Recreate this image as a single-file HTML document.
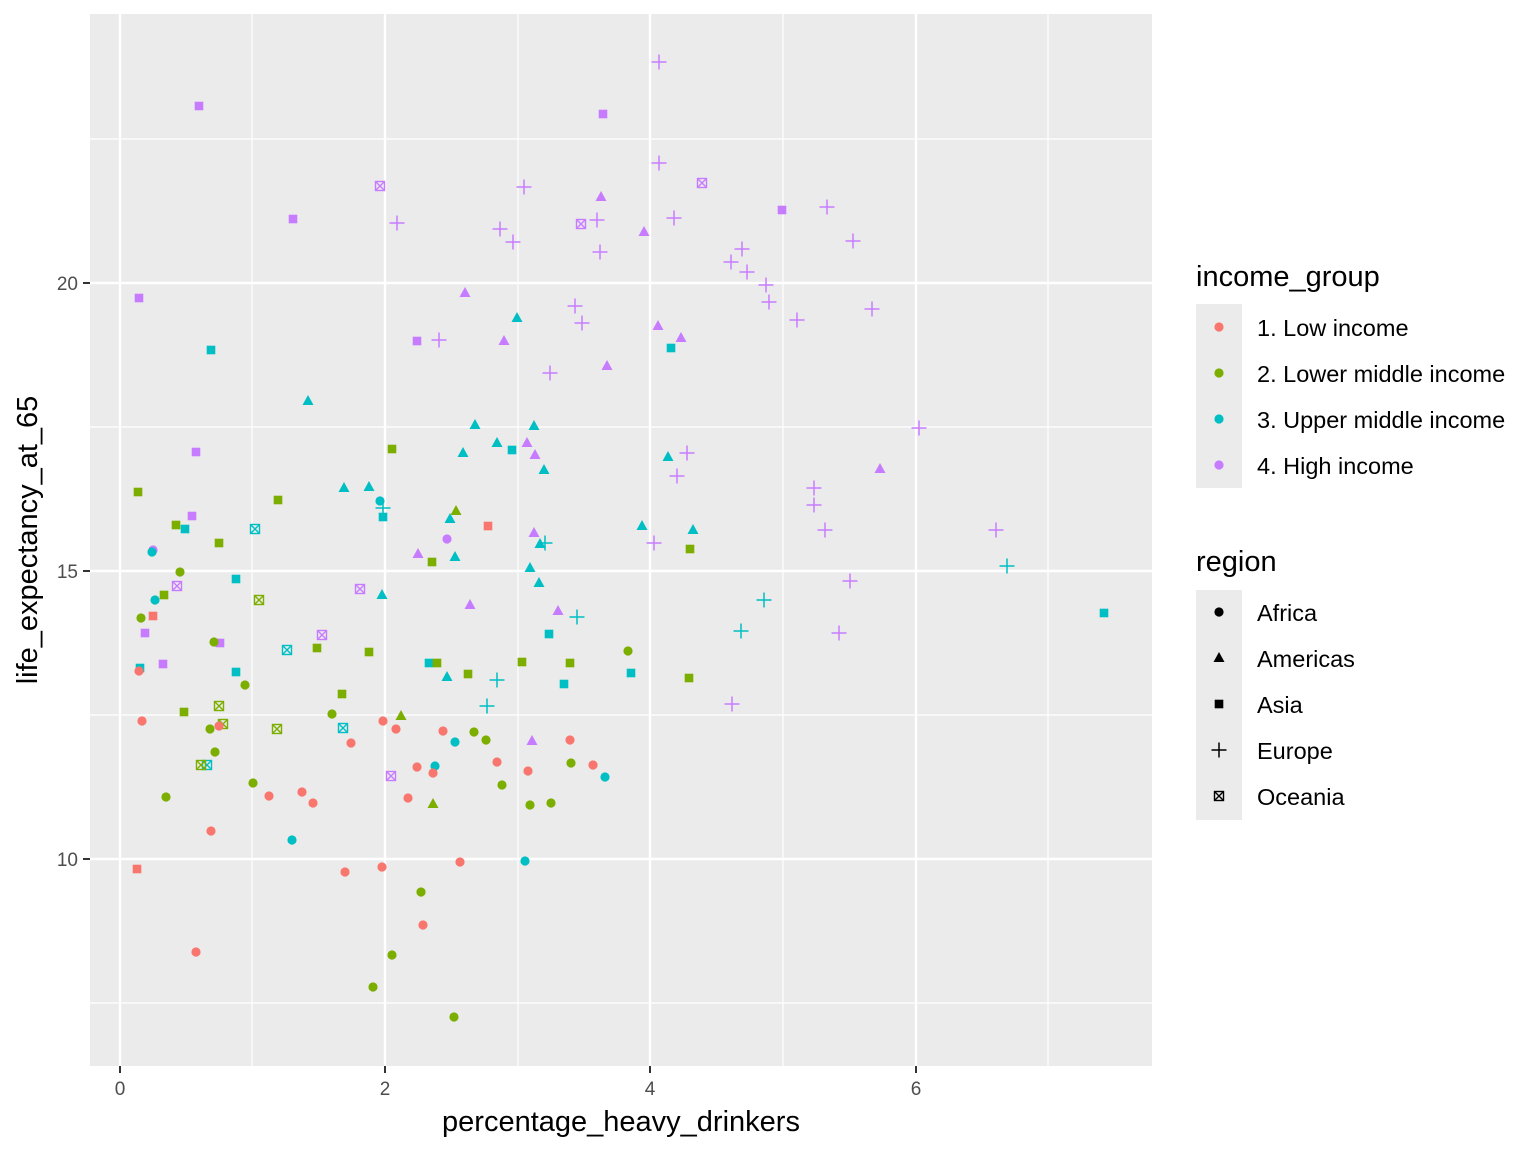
<!DOCTYPE html>
<html><head><meta charset="utf-8"><style>body{margin:0;background:#fff}svg{display:block}text{font-family:"Liberation Sans",Arial,sans-serif}</style></head>
<body>
<svg id="s" width="1536" height="1152" xmlns="http://www.w3.org/2000/svg">
<rect x="90" y="14" width="1062" height="1052" fill="#EBEBEB"/>
<g stroke="#fff" stroke-width="1.2">
<line x1="252" y1="14" x2="252" y2="1066"/><line x1="518" y1="14" x2="518" y2="1066"/><line x1="783" y1="14" x2="783" y2="1066"/><line x1="1048" y1="14" x2="1048" y2="1066"/>
<line x1="90" y1="139" x2="1152" y2="139"/><line x1="90" y1="427" x2="1152" y2="427"/><line x1="90" y1="715" x2="1152" y2="715"/><line x1="90" y1="1003" x2="1152" y2="1003"/>
</g>
<g stroke="#fff" stroke-width="2.4">
<line x1="120" y1="14" x2="120" y2="1066"/><line x1="385" y1="14" x2="385" y2="1066"/><line x1="650" y1="14" x2="650" y2="1066"/><line x1="916" y1="14" x2="916" y2="1066"/>
<line x1="90" y1="283" x2="1152" y2="283"/><line x1="90" y1="571" x2="1152" y2="571"/><line x1="90" y1="859" x2="1152" y2="859"/>
</g>
<g stroke="#333" stroke-width="2">
<line x1="120" y1="1066" x2="120" y2="1073"/><line x1="385" y1="1066" x2="385" y2="1073"/><line x1="650" y1="1066" x2="650" y2="1073"/><line x1="916" y1="1066" x2="916" y2="1073"/>
<line x1="83" y1="283" x2="90" y2="283"/><line x1="83" y1="571" x2="90" y2="571"/><line x1="83" y1="859" x2="90" y2="859"/>
</g>
<g fill="#4D4D4D" font-size="19">
<text x="120" y="1095" text-anchor="middle">0</text><text x="385" y="1095" text-anchor="middle">2</text><text x="650" y="1095" text-anchor="middle">4</text><text x="916" y="1095" text-anchor="middle">6</text>
<text x="78" y="290" text-anchor="end">20</text><text x="78" y="578" text-anchor="end">15</text><text x="78" y="866" text-anchor="end">10</text>
</g>
<text x="621" y="1131" text-anchor="middle" font-size="29">percentage_heavy_drinkers</text>
<text transform="translate(37,540) rotate(-90)" text-anchor="middle" font-size="29">life_expectancy_at_65</text>
<text x="1196" y="286" font-size="29">income_group</text>
<rect x="1196" y="304" width="46" height="184" fill="#EBEBEB"/>
<g font-size="23.5">
<text x="1257" y="336">1. Low income</text><text x="1257" y="382">2. Lower middle income</text><text x="1257" y="428">3. Upper middle income</text><text x="1257" y="474">4. High income</text>
</g>
<text x="1196" y="571" font-size="29">region</text>
<rect x="1196" y="590" width="46" height="230" fill="#EBEBEB"/>
<g font-size="23.5">
<text x="1257" y="621">Africa</text><text x="1257" y="667">Americas</text><text x="1257" y="713">Asia</text><text x="1257" y="759">Europe</text><text x="1257" y="805">Oceania</text>
</g>
<g id="pts"></g>
</svg>
<script>
var C={r:"#F8766D",g:"#7CAE00",c:"#00BFC4",p:"#C77CFF",k:"#000"};
var D={
p:{p:[[659,62],[659,163],[524,187],[397,223],[500,229],[513,242],[597,220],[600,252],[674,218],[742,249],[731,262],[747,272],[766,285],[769,302],[575,306],[582,323],[439,340],[797,320],[827,207],[853,241],[872,309],[550,373],[919,428],[687,453],[677,476],[814,488],[814,505],[825,530],[654,543],[850,581],[839,633],[996,530],[732,704]],
s:[[199,106],[603,114],[293,219],[782,210],[139,298],[417,341],[196,452],[192,516],[145,633],[163,664],[220,643]],
o:[[380,186],[702,183],[581,224],[177,586],[360,589],[322,635],[391,776]],
t:[[601,197],[644,232],[465,293],[658,326],[504,341],[681,338],[607,366],[527,443],[535,455],[418,554],[534,533],[470,605],[558,611],[532,741],[880,469]],
c:[[153,550],[447,539]]},
c:{p:[[383,508],[545,543],[577,617],[497,680],[487,706],[741,631],[764,600],[1007,566]],
s:[[211,350],[671,348],[512,450],[383,517],[185,529],[236,579],[549,634],[236,672],[429,663],[564,684],[631,673],[1104,613],[140,668]],
o:[[255,529],[287,650],[343,728],[207,765]],
t:[[308,401],[517,318],[475,425],[534,426],[497,443],[463,453],[668,457],[544,470],[344,488],[369,487],[450,519],[642,526],[693,530],[455,557],[540,544],[530,568],[539,583],[382,595],[447,677]],
c:[[380,501],[152,552],[155,600],[435,766],[455,742],[292,840],[525,861],[605,777]]},
g:{s:[[392,449],[138,492],[278,500],[176,525],[219,543],[432,562],[164,595],[317,648],[369,652],[342,694],[184,712],[468,674],[522,662],[570,663],[437,663],[690,549],[689,678]],
o:[[259,600],[219,706],[223,724],[277,729],[201,765]],
t:[[456,511],[401,716],[433,804]],
c:[[141,618],[180,572],[245,685],[332,714],[214,642],[210,729],[215,752],[166,797],[253,783],[474,732],[486,740],[502,785],[530,805],[551,803],[571,763],[628,651],[421,892],[392,955],[373,987],[454,1017]]},
r:{c:[[139,671],[142,721],[219,726],[211,831],[196,952],[269,796],[302,792],[313,803],[351,743],[383,721],[396,729],[443,731],[417,767],[433,773],[408,798],[497,762],[528,771],[570,740],[593,765],[345,872],[382,867],[423,925],[460,862]],
s:[[137,869],[488,526],[153,616]]}};
function sh(t,x,y,col){
 if(t=="c")return '<circle cx="'+x+'" cy="'+y+'" r="4.6" fill="'+col+'"/>';
 if(t=="s")return '<rect x="'+(x-4.3)+'" y="'+(y-4.3)+'" width="8.6" height="8.6" fill="'+col+'"/>';
 if(t=="t")return '<polygon points="'+x+','+(y-6)+' '+(x+5.5)+','+(y+4)+' '+(x-5.5)+','+(y+4)+'" fill="'+col+'"/>';
 if(t=="p")return '<path d="M'+(x-7.5)+' '+y+'h15M'+x+' '+(y-7.5)+'v15" stroke="'+col+'" stroke-width="1.5"/>';
 return '<g stroke="'+col+'" stroke-width="1.4" fill="none"><rect x="'+(x-4.5)+'" y="'+(y-4.5)+'" width="9" height="9"/><path d="M'+(x-4.5)+' '+(y-4.5)+'l9 9M'+(x+4.5)+' '+(y-4.5)+'l-9 9"/></g>';
}
var h="";
for(var c in D)for(var t in D[c])D[c][t].forEach(function(p){h+=sh(t,p[0],p[1],C[c]);});
h+=sh("c",1219,327,C.r)+sh("c",1219,373,C.g)+sh("c",1219,419,C.c)+sh("c",1219,465,C.p);
h+=sh("c",1219,612,"#000")+sh("t",1219,658,"#000")+sh("s",1219,704,"#000")+sh("p",1219,750,"#000")+sh("o",1219,796,"#000");
document.getElementById("pts").innerHTML=h;
</script>
</body></html>
